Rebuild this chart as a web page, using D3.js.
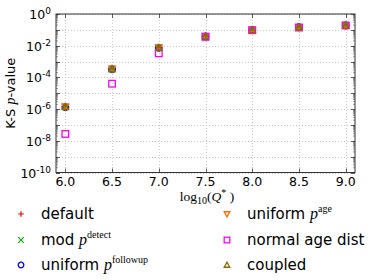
<!DOCTYPE html>
<html>
<head>
<meta charset="utf-8">
<script src="https://cdn.jsdelivr.net/npm/d3@7"></script>
<style>
  body { margin: 0; background: #fff; }
  svg text { font-family: "DejaVu Sans", sans-serif; fill: #000; }
  .math { font-family: "Liberation Serif", "DejaVu Serif", serif; }
</style>
</head>
<body>
<svg id="chart" width="374" height="280"></svg>
<script>
// data
const logQ = [6.0, 6.5, 7.0, 7.5, 8.0, 8.5, 9.0];
const pDefault   = [1.4e-6, 3.4e-4, 7.5e-3, 0.039, 0.098, 0.145, 0.19];
const pDetect    = [1.4e-6, 3.4e-4, 7.4e-3, 0.038, 0.097, 0.144, 0.19];
const pFollowup  = [1.3e-6, 3.3e-4, 7.2e-3, 0.038, 0.097, 0.145, 0.19];
const pAge       = [1.4e-6, 3.5e-4, 7.6e-3, 0.040, 0.099, 0.146, 0.19];
const pNormalAge = [2.7e-8, 4.0e-5, 3.3e-3, 0.036, 0.095, 0.140, 0.19];
const pCoupled   = [1.4e-6, 3.4e-4, 7.5e-3, 0.039, 0.098, 0.145, 0.19];
const xTicks = [6.0, 6.5, 7.0, 7.5, 8.0, 8.5, 9.0];
const yLabelExp = [0, -2, -4, -6, -8, -10];

const series = [
  {name: "default", sup: null, vals: pDefault, sym: "plus", color: "#ff0000"},
  {name: "mod ", sup: "detect", vals: pDetect, sym: "cross", color: "#00b000"},
  {name: "uniform ", sup: "followup", vals: pFollowup, sym: "circle", color: "#0000ff"},
  {name: "uniform ", sup: "age", vals: pAge, sym: "tridown", color: "#ff6a00"},
  {name: "normal age dist", sup: null, vals: pNormalAge, sym: "square", color: "#ff00ff"},
  {name: "coupled", sup: null, vals: pCoupled, sym: "triup", color: "#8b6a00"}
];

const plot = {left: 56, right: 355, top: 14, bottom: 172.5};

const svg = d3.select("#chart");

var x = d3.scaleLinear().domain([5.9, 9.1]).range([plot.left, plot.right]);
var y = d3.scaleLog().domain([1e-10, 1]).range([plot.bottom, plot.top]);

//grid
const decades = d3.range(-10, 1).map(e => Math.pow(10, e));
svg.append("g").selectAll("line").data(decades).enter().append("line")
  .attr("x1", plot.left).attr("x2", plot.right)
  .attr("y1", d => Math.round(y(d)) + 0.5).attr("y2", d => Math.round(y(d)) + 0.5)
  .attr("stroke", "#bbb").attr("stroke-width", 0.8).attr("stroke-dasharray", "1,2");
svg.append("g").selectAll("line").data(xTicks).enter().append("line")
  .attr("y1", plot.top).attr("y2", plot.bottom)
  .attr("x1", d => Math.round(x(d)) + 0.5).attr("x2", d => Math.round(x(d)) + 0.5)
  .attr("stroke", "#bbb").attr("stroke-width", 0.8).attr("stroke-dasharray", "1,2");

//ticks (inward, all four sides)
const ticks = svg.append("g").attr("stroke", "#333").attr("stroke-width", 0.8);
const minors = [];
for (let e = -10; e < 0; e++) for (let m = 2; m < 10; m++) minors.push(m * Math.pow(10, e));
decades.forEach(d => {
  let yy = Math.round(y(d)) + 0.5;
  ticks.append("line").attr("x1", plot.left).attr("x2", plot.left + 4).attr("y1", yy).attr("y2", yy);
  ticks.append("line").attr("x1", plot.right).attr("x2", plot.right - 4).attr("y1", yy).attr("y2", yy);
});
minors.forEach(d => {
  let yy = y(d);
  ticks.append("line").attr("x1", plot.left).attr("x2", plot.left + 2).attr("y1", yy).attr("y2", yy).attr("stroke-width", 0.5);
  ticks.append("line").attr("x1", plot.right).attr("x2", plot.right - 2).attr("y1", yy).attr("y2", yy).attr("stroke-width", 0.5);
});
xTicks.forEach(d => {
  let xx = Math.round(x(d)) + 0.5;
  ticks.append("line").attr("x1", xx).attr("x2", xx).attr("y1", plot.bottom).attr("y2", plot.bottom - 4);
  ticks.append("line").attr("x1", xx).attr("x2", xx).attr("y1", plot.top).attr("y2", plot.top + 4);
});

//frame
svg.append("rect")
  .attr("x", plot.left).attr("y", plot.top)
  .attr("width", plot.right - plot.left).attr("height", plot.bottom - plot.top)
  .attr("fill", "none").attr("stroke", "#333").attr("stroke-width", 1);

//tick labels
svg.append("g").selectAll("text").data(xTicks).enter().append("text")
  .attr("x", d => x(d)).attr("y", 185.5)
  .attr("text-anchor", "middle").attr("font-size", 12.5)
  .text(d => d.toFixed(1));

yLabelExp.forEach(e => {
  let t = svg.append("text").attr("x", 51).attr("y", y(Math.pow(10, e)) + 5)
    .attr("text-anchor", "end").attr("font-size", 12.5);
  t.append("tspan").text("10");
  t.append("tspan").attr("dy", -5).attr("font-size", 9).text(e === 0 ? "0" : "-" + (-e));
});

//axis titles
let yl = svg.append("text").attr("transform", "translate(15," + ((plot.top + plot.bottom) / 2) + ") rotate(-90)")
  .attr("text-anchor", "middle").attr("font-size", 13);
yl.append("tspan").text("K-S ");
yl.append("tspan").attr("class", "math").attr("font-style", "italic").attr("font-size", 14).text("p");
yl.append("tspan").text("-value");

let xl = svg.append("text").attr("class", "math").attr("x", 207).attr("y", 200.5)
  .attr("text-anchor", "middle").attr("font-size", 13.5);
xl.append("tspan").text("log");
xl.append("tspan").attr("dy", 3).attr("font-size", 10).text("10");
xl.append("tspan").attr("dy", -3).text("(");
xl.append("tspan").attr("font-style", "italic").text("Q");
xl.append("tspan").attr("dy", -5).attr("font-size", 10).text("*");
xl.append("tspan").attr("dy", 5).text(" )");

//markers
function marker(g, sym, color, s) {
  if (sym === "plus") {
    g.append("path").attr("d", `M${-s},0H${s}M0,${-s}V${s}`).attr("stroke", color).attr("stroke-width", 1.2).attr("fill", "none");
  } else if (sym === "cross") {
    g.append("path").attr("d", `M${-s},${-s}L${s},${s}M${-s},${s}L${s},${-s}`).attr("stroke", color).attr("stroke-width", 1.2).attr("fill", "none");
  } else if (sym === "circle") {
    g.append("circle").attr("r", s).attr("stroke", color).attr("stroke-width", 1.3).attr("fill", "none");
  } else if (sym === "square") {
    g.append("rect").attr("x", -s).attr("y", -s).attr("width", 2 * s).attr("height", 2 * s)
      .attr("stroke", color).attr("stroke-width", 1.3).attr("fill", "none");
  } else if (sym === "tridown") {
    g.append("path").attr("d", `M${-s},${-s * 0.8}L${s},${-s * 0.8}L0,${s}Z`).attr("stroke", color).attr("stroke-width", 1.3).attr("fill", "none");
  } else if (sym === "triup") {
    g.append("path").attr("d", `M${-s},${s * 0.8}L${s},${s * 0.8}L0,${-s}Z`).attr("stroke", color).attr("stroke-width", 1.3).attr("fill", "none");
  }
}

series.forEach(s => {
  s.vals.forEach((v, i) => {
    let g = svg.append("g").attr("transform", "translate(" + x(logQ[i]) + "," + y(v) + ")");
    marker(g, s.sym, s.color, 3.3);
  });
});

//legend
const legRows = [219, 245, 270];
series.forEach((s, i) => {
  let col = Math.floor(i / 3), row = i % 3;
  let mx = col === 0 ? 21 : 227, tx = col === 0 ? 41 : 247;
  let g = svg.append("g").attr("transform", "translate(" + mx + "," + (legRows[row] - 5) + ")");
  marker(g, s.sym, s.color, 2.8);
  let t = svg.append("text").attr("x", tx).attr("y", legRows[row]).attr("font-size", 15);
  t.append("tspan").text(s.name);
  if (s.sup) {
    t.append("tspan").attr("class", "math").attr("font-style", "italic").attr("font-size", 16).text("p");
    t.append("tspan").attr("class", "math").attr("dy", -7).attr("font-size", 10).text(s.sup);
  }
});
</script>
</body>
</html>
